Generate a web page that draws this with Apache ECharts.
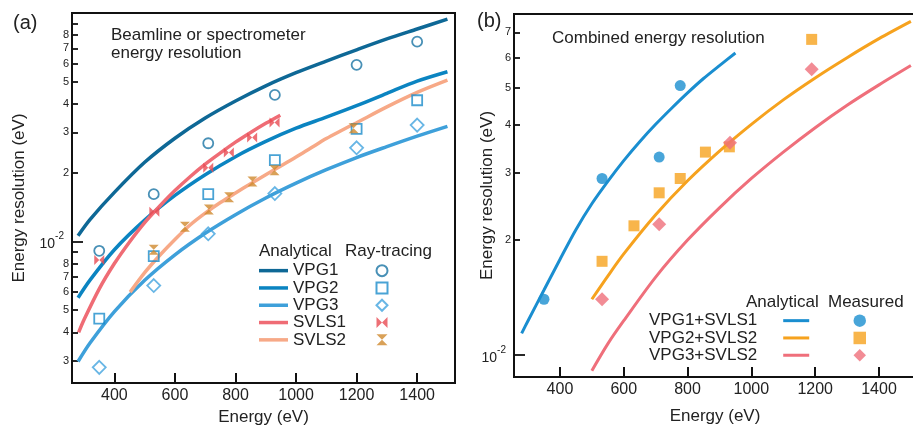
<!DOCTYPE html>
<html><head><meta charset="utf-8">
<script src="https://cdn.jsdelivr.net/npm/echarts@6/dist/echarts.min.js"></script>
<style>html,body{margin:0;padding:0;background:#fff}#c{width:913px;height:426px}</style>
</head><body><div id="c"></div>
<script>
// ---------- Panel (a): analytical curves ----------
const energyCurveA = [280, 320, 400, 500, 600, 700, 800, 900, 1000, 1100, 1200, 1300, 1400, 1500];
const vpg1Curve = [0.0106, 0.0125, 0.0164, 0.0222, 0.0283, 0.0347, 0.0412, 0.0480, 0.0548, 0.0616, 0.0690, 0.0770, 0.0851, 0.0940];
const vpg2Curve = [0.00567, 0.00679, 0.0092, 0.0124, 0.0159, 0.0196, 0.0235, 0.0274, 0.0313, 0.0350, 0.0393, 0.0445, 0.0503, 0.0553];
const vpg3Curve = [0.00298, 0.0036, 0.00493, 0.00676, 0.00874, 0.01086, 0.0131, 0.0155, 0.0180, 0.0206, 0.0233, 0.0260, 0.0289, 0.0319];
const svls1Energy = [282, 300, 350, 400, 450, 500, 550, 600, 650, 700, 750, 800, 850, 900, 948];
const svls1Curve = [0.0040, 0.00455, 0.0062, 0.0080, 0.00995, 0.0121, 0.0143, 0.0167, 0.0192, 0.0218, 0.0244, 0.0272, 0.0300, 0.0329, 0.0357];
const svls2Energy = [452, 500, 550, 600, 650, 700, 750, 800, 850, 900, 950, 1000, 1050, 1100, 1150, 1200, 1300, 1400, 1500];
const svls2Curve = [0.0060, 0.0073, 0.0087, 0.0102, 0.0118, 0.0133, 0.0148, 0.0163, 0.0179, 0.0196, 0.0214, 0.0234, 0.0257, 0.0282, 0.0306, 0.0331, 0.0388, 0.0449, 0.0508];

// ---------- Panel (a): ray-tracing points ----------
const rtEnergy = [350, 530, 710, 930, 1200, 1400];
const vpg1RT = [0.0091, 0.0161, 0.0269, 0.0438, 0.0593, 0.0749];
const vpg2RT = [0.00459, 0.00862, 0.0161, 0.0227, 0.0311, 0.0415];
const vpg3RT = [0.00281, 0.00641, 0.0108, 0.0162, 0.0257, 0.0323];
const svls1RTEnergy = [350, 532, 710, 778, 855, 929];
const svls1RT = [0.0083, 0.0135, 0.0210, 0.0245, 0.0285, 0.0332];
const svls2RTEnergy = [530, 633, 712, 779, 856, 929, 1190];
const svls2RT = [0.0092, 0.0116, 0.0138, 0.0156, 0.0183, 0.0205, 0.0313];

// ---------- Panel (b): analytical curves ----------
const comb1Energy = [280, 300, 350, 400, 450, 500, 550, 600, 650, 700, 750, 800, 850, 900, 950];
const comb1Curve = [0.0114, 0.0123, 0.0148, 0.0178, 0.0213, 0.0249, 0.0285, 0.0323, 0.0362, 0.0402, 0.0443, 0.0486, 0.0530, 0.0573, 0.0618];
const comb23Energy = [500, 550, 600, 700, 800, 900, 1000, 1100, 1200, 1300, 1400, 1500];
const comb2Curve = [0.0140, 0.0161, 0.0184, 0.0233, 0.0286, 0.0342, 0.0402, 0.0466, 0.0532, 0.0601, 0.0674, 0.0748];
const comb3Curve = [0.0091, 0.0107, 0.0123, 0.0160, 0.0200, 0.0243, 0.0290, 0.0340, 0.0394, 0.0451, 0.0510, 0.0573];

// ---------- Panel (b): measured points ----------
const meas1Energy = [350, 532, 711, 777];
const meas1 = [0.0140, 0.0290, 0.0330, 0.0508];
const meas2Energy = [532, 632, 711, 777, 856, 931, 1189];
const meas2 = [0.0176, 0.0218, 0.0266, 0.0290, 0.0340, 0.0351, 0.0671];
const meas3Energy = [532, 711, 933, 1189];
const meas3 = [0.0140, 0.0220, 0.0360, 0.0560];

// ---------- axis ticks / labels ----------
const xTicks = [400, 600, 800, 1000, 1200, 1400];
const yLabelsA = [0.003, 0.004, 0.005, 0.006, 0.007, 0.008, 0.02, 0.03, 0.04, 0.05, 0.06, 0.07, 0.08];
const yTicksA = [0.003, 0.004, 0.005, 0.006, 0.007, 0.008, 0.009, 0.02, 0.03, 0.04, 0.05, 0.06, 0.07, 0.08, 0.09];
const yLabelsB = [0.02, 0.03, 0.04, 0.05, 0.06, 0.07];
const yTicksB = [0.02, 0.03, 0.04, 0.05, 0.06, 0.07];
const decadeTick = [0.01];

const FONT = '"Liberation Sans", Arial, Helvetica, sans-serif';
const pair = (xs, ys) => xs.map((x, i) => [x, ys[i]]);
const mant = v => String(Math.round(v / Math.pow(10, Math.floor(Math.log10(v) + 1e-9))));

const bowtie = 'path://M0,0L5,5L0,10ZM10,0L5,5L10,10Z';
const hourglass = 'path://M0,0L10,0L5,5L10,10L0,10L5,5Z';

function curve(name, xs, ys, color, w, xi, yi) {
  return { name, type: 'line', xAxisIndex: xi, yAxisIndex: yi, data: pair(xs, ys), smooth: 0.3,
    symbol: 'none', showSymbol: false, lineStyle: { color, width: w }, itemStyle: { color }, z: 2, silent: true };
}
function pts(name, xs, ys, symbol, size, color, hollow, xi, yi) {
  return { name, type: 'scatter', xAxisIndex: xi, yAxisIndex: yi, data: pair(xs, ys), symbol, symbolSize: size,
    itemStyle: hollow ? { color: 'rgba(255,255,255,0)', borderColor: color, borderWidth: 1.8 } : { color },
    z: 3, silent: true };
}

const C = {
  vpg1: '#0e6896', vpg2: '#0b84c1', vpg3: '#3ea0da', svls1: '#ef6c75', svls2: '#f7a987',
  rt1: '#1a74a4', rt2: '#1c8ccb', rt3: '#42a4de', rts1: '#e94b53', rts2: '#cf8a2e',
  b1: '#1a8ed0', b2: '#f6a21e', b3: '#ef6f7b'
};

function xAxisCfg(gi, min, max, gap) {
  return { type: 'value', gridIndex: gi, min, max, name: 'Energy (eV)', nameLocation: 'middle', nameGap: gap,
    nameTextStyle: { fontFamily: FONT, fontSize: 17, color: '#222' },
    axisLine: { show: true, lineStyle: { color: '#111', width: 2 } },
    axisTick: { show: true, inside: true, length: 10, customValues: xTicks, lineStyle: { color: '#111', width: 2 } },
    axisLabel: { customValues: xTicks, margin: 5, fontFamily: FONT, fontSize: 16, color: '#222', formatter: v => String(v) },
    splitLine: { show: false } };
}
function yAxisCfg(gi, min, max, labels, ticks, gap) {
  return { type: 'log', logBase: 10, gridIndex: gi, min, max, name: 'Energy resolution (eV)', nameLocation: 'middle',
    nameGap: gap, nameMoveOverlap: false,
    nameTextStyle: { fontFamily: FONT, fontSize: 17, color: '#222' },
    axisLine: { show: true, lineStyle: { color: '#111', width: 2 } },
    axisTick: { show: true, inside: true, length: 6, customValues: ticks, lineStyle: { color: '#111', width: 1.8 } },
    axisLabel: { customValues: labels, margin: 3, fontFamily: FONT, fontSize: 11, color: '#222', formatter: mant },
    splitLine: { show: false }, minorTick: { show: false } };
}
function decadeAxis(gi, min, max) {
  return { type: 'log', logBase: 10, gridIndex: gi, min, max, position: 'left',
    axisLine: { show: false },
    axisTick: { show: true, inside: true, length: 11, customValues: decadeTick, lineStyle: { color: '#111', width: 1.8 } },
    axisLabel: { customValues: decadeTick, margin: 8, fontFamily: FONT, color: '#222',
      formatter: () => '{b|10}{s|-2}',
      rich: { b: { fontFamily: FONT, fontSize: 14, lineHeight: 20, verticalAlign: 'bottom', color: '#222' },
              s: { fontFamily: FONT, fontSize: 10, lineHeight: 10, verticalAlign: 'top', color: '#222' } } },
    splitLine: { show: false } };
}

const legendText = { fontFamily: FONT, fontSize: 17, color: '#222', lineHeight: 17.3 };
const gtext = (text, x, y, size) => ({ type: 'text', left: x, top: y - size * 0.6,
  style: { text, fontFamily: FONT, fontSize: size, fill: '#222' } });
const lineItems = names => names.map(n => ({ name: n, icon: 'rect' }));

const option = {
  animation: false,
  backgroundColor: '#fff',
  grid: [
    { left: 72, top: 13, width: 383, height: 370, show: true, borderColor: '#111', borderWidth: 2, containLabel: false, outerBoundsMode: 'none' },
    { left: 514, top: 14, width: 402, height: 363, show: true, borderColor: '#111', borderWidth: 2, containLabel: false, outerBoundsMode: 'none' }
  ],
  xAxis: [ xAxisCfg(0, 260, 1525, 24), xAxisCfg(1, 256, 1516, 31) ],
  yAxis: [
    yAxisCfg(0, 0.0024, 0.1, yLabelsA, yTicksA, 44),
    decadeAxis(0, 0.0024, 0.1),
    yAxisCfg(1, 0.00876, 0.0782, yLabelsB, yTicksB, 18),
    decadeAxis(1, 0.00876, 0.0782)
  ],
  legend: [
    { data: lineItems(['VPG1', 'VPG2', 'VPG3', 'SVLS1', 'SVLS2']), orient: 'vertical', left: 259, top: 262, padding: 0,
      itemWidth: 29, itemHeight: 3.5, itemGap: 0, textStyle: legendText, selectedMode: false },
    { data: ['VPG1 ray-tracing', 'VPG2 ray-tracing', 'VPG3 ray-tracing', 'SVLS1 ray-tracing', 'SVLS2 ray-tracing'],
      orient: 'vertical', left: 375.5, top: 262, padding: 0, itemWidth: 11, itemHeight: 11, itemGap: 0,
      formatter: () => ' ', textStyle: legendText, selectedMode: false },
    { data: lineItems(['VPG1+SVLS1', 'VPG2+SVLS2', 'VPG3+SVLS2']), orient: 'vertical', align: 'right', left: 649, top: 312, padding: 0,
      itemWidth: 26, itemHeight: 3, itemGap: 0, textStyle: Object.assign({ padding: [0, 21, 0, 0] }, legendText), selectedMode: false },
    { data: ['VPG1+SVLS1 measured', 'VPG2+SVLS2 measured', 'VPG3+SVLS2 measured'], orient: 'vertical', left: 853.5, top: 312,
      padding: 0, itemWidth: 12.5, itemHeight: 12.5, itemGap: 0, formatter: () => ' ', textStyle: legendText, selectedMode: false }
  ],
  graphic: [
    gtext('(a)', 13, 25, 20),
    gtext('(b)', 477, 23, 20),
    gtext('Beamline or spectrometer', 111, 37, 17),
    gtext('energy resolution', 111, 55, 17),
    gtext('Combined energy resolution', 552, 40, 17),
    gtext('Analytical', 259, 253, 17),
    gtext('Ray-tracing', 345, 253, 17),
    gtext('Analytical', 746, 304, 17),
    gtext('Measured', 828, 304, 17)
  ],
  series: [
    curve('VPG1', energyCurveA, vpg1Curve, C.vpg1, 3.5, 0, 0),
    curve('VPG2', energyCurveA, vpg2Curve, C.vpg2, 3.5, 0, 0),
    curve('VPG3', energyCurveA, vpg3Curve, C.vpg3, 3.5, 0, 0),
    curve('SVLS1', svls1Energy, svls1Curve, C.svls1, 3.5, 0, 0),
    curve('SVLS2', svls2Energy, svls2Curve, C.svls2, 3.5, 0, 0),
    pts('VPG1 ray-tracing', rtEnergy, vpg1RT, 'circle', 10, C.rt1, true, 0, 0),
    pts('VPG2 ray-tracing', rtEnergy, vpg2RT, 'rect', 10, C.rt2, true, 0, 0),
    pts('VPG3 ray-tracing', rtEnergy, vpg3RT, 'diamond', 13, C.rt3, true, 0, 0),
    pts('SVLS1 ray-tracing', svls1RTEnergy, svls1RT, bowtie, 10, C.rts1, false, 0, 0),
    pts('SVLS2 ray-tracing', svls2RTEnergy, svls2RT, hourglass, 10, C.rts2, false, 0, 0),
    curve('VPG1+SVLS1', comb1Energy, comb1Curve, C.b1, 3, 1, 2),
    curve('VPG2+SVLS2', comb23Energy, comb2Curve, C.b2, 3, 1, 2),
    curve('VPG3+SVLS2', comb23Energy, comb3Curve, C.b3, 3, 1, 2),
    pts('VPG1+SVLS1 measured', meas1Energy, meas1, 'circle', 11, C.b1, false, 1, 2),
    pts('VPG2+SVLS2 measured', meas2Energy, meas2, 'rect', 11, C.b2, false, 1, 2),
    pts('VPG3+SVLS2 measured', meas3Energy, meas3, 'diamond', 14, C.b3, false, 1, 2)
  ]
};

const chart = echarts.init(document.getElementById('c'), null, { renderer: 'canvas' });
chart.setOption(option);
</script>
</body></html>
